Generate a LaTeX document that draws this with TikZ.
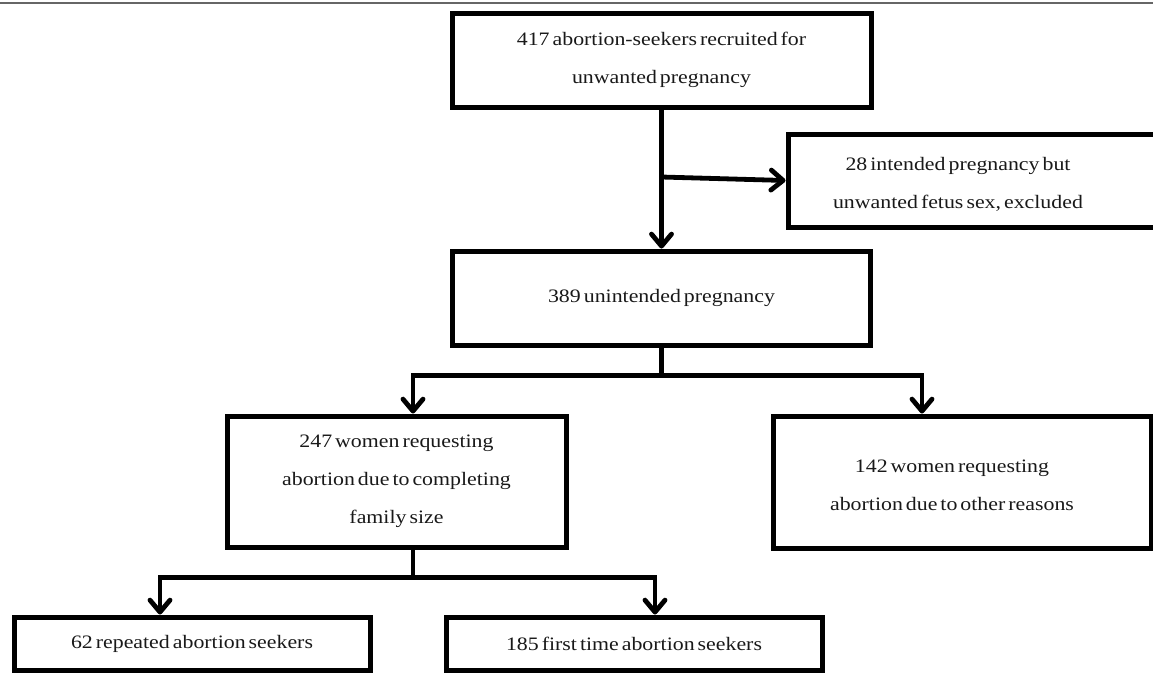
\documentclass[tikz,border=0pt]{standalone}
\usepackage{fontspec}
\setmainfont{Liberation Serif}[FakeStretch=1.15, WordSpace=0.55]
\usetikzlibrary{arrows.meta,calc}
\newcommand\txtfont{\fontsize{19}{38}\selectfont}
\begin{document}
\begin{tikzpicture}[x=1pt,y=-1pt,
  boxn/.style={draw=black, line width=5pt, inner sep=0pt, align=center, font=\txtfont, text=black!90},
  txt/.style={inner sep=0pt, align=center, font=\txtfont, text=black!90},
  conn/.style={line width=4.8pt, -{Straight Barb[round,length=12pt,width=20pt]}},
]
\useasboundingbox (0,0) rectangle (1153,673);
\clip (0,0) rectangle (1153,673);
\draw[gray!80!black, line width=1.5pt] (0,3) -- (1153,3);

\node[boxn, minimum width=419pt, minimum height=94pt] (n1) at (661.5,60)
  {417 abortion-seekers recruited for\\unwanted pregnancy};
\node[boxn, minimum width=390pt, minimum height=93pt] (n2) at (983,180.5) {};
\node[txt] (t2) at (958,184) {28 intended pregnancy but\\unwanted fetus sex, excluded};
\node[boxn, minimum width=418pt, minimum height=94pt] (n3) at (661.5,298)
  {389 unintended pregnancy};
\node[boxn, minimum width=339pt, minimum height=131pt] (n4) at (396.5,481.5)
  {247 women requesting\\abortion due to completing\\family size};
\node[boxn, minimum width=378pt, minimum height=132pt] (n5) at (962,482) {};
\node[txt] (t5) at (952,485) {142 women requesting\\abortion due to other reasons};
\node[boxn, minimum width=356pt, minimum height=53pt] (n6) at (192,643.5)
  {62 repeated abortion seekers};
\node[boxn, minimum width=376pt, minimum height=53pt] (n7) at (634,643.5)
  {185 first time abortion seekers};

\coordinate (j1) at (661.5,177);
\draw[conn] (n1.south) -- (n1.south |- n3.north);
\draw[conn] (j1) -- (n2.west);
\draw[conn] (n3.south) -- ++(0,28) -| ([xshift=16.5pt]n4.north);
\draw[conn] (n3.south) -- ++(0,28) -| ([xshift=-40pt]n5.north);
\draw[conn] ([xshift=16.5pt]n4.south) -- ++(0,28) -| ([xshift=-32pt]n6.north);
\draw[conn] ([xshift=16.5pt]n4.south) -- ++(0,28) -| ([xshift=21pt]n7.north);
\end{tikzpicture}
\end{document}
